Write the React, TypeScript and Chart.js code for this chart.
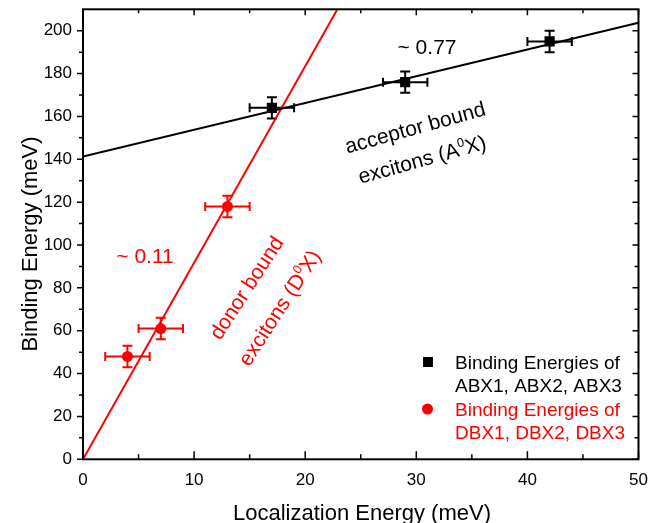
import React, { useEffect, useRef } from "react";
import { Chart, registerables } from "chart.js";

Chart.register(...registerables);

// ---- data ----
const abxLoc = [17, 29, 42];
const abxBind = [164, 176, 195];
const abxLocErr = [2, 2, 2];
const abxBindErr = [5, 5, 5];

const dbxLoc = [4, 7, 13];
const dbxBind = [48, 61, 118];
const dbxLocErr = [2, 2, 2];
const dbxBindErr = [5, 5, 5];

const acceptorFitX = [0, 50];
const acceptorFitY = [141.3, 203.7];
const donorFitX = [0, 25];
const donorFitY = [0, 229.3];

const xTicks = [0, 10, 20, 30, 40, 50];
const yTicks = [0, 20, 40, 60, 80, 100, 120, 140, 160, 180, 200];

const xTitle = "Localization Energy (meV)";
const yTitle = "Binding Energy (meV)";
const legendLines = [
  ["Binding Energies of", "ABX1, ABX2, ABX3"],
  ["Binding Energies of", "DBX1, DBX2, DBX3"],
];

const FONT = '"Liberation Sans", Arial, Helvetica, sans-serif';
const RED = "#ff0000";
const BLACK = "#000000";

function font(size: number) {
  return `${size}px ${FONT}`;
}

type Seg = { t: string; sup?: boolean };

function drawRich(
  ctx: CanvasRenderingContext2D,
  segs: Seg[],
  cx: number,
  cy: number,
  angleDeg: number,
  size: number,
  color: string
) {
  ctx.save();
  ctx.translate(cx, cy);
  ctx.rotate((angleDeg * Math.PI) / 180);
  ctx.fillStyle = color;
  ctx.textAlign = "left";
  ctx.textBaseline = "alphabetic";
  let total = 0;
  const widths = segs.map((s) => {
    ctx.font = font(s.sup ? size * 0.6 : size);
    const w = ctx.measureText(s.t).width;
    total += w;
    return w;
  });
  let x = -total / 2;
  const base = size * 0.358;
  segs.forEach((s, i) => {
    ctx.font = font(s.sup ? size * 0.6 : size);
    ctx.fillText(s.t, x, s.sup ? base - size * 0.42 : base);
    x += widths[i];
  });
  ctx.restore();
}

function drawErrorBars(chart: any, xs: number[], ys: number[], xe: number[], ye: number[], color: string) {
  const ctx = chart.ctx as CanvasRenderingContext2D;
  const sx = chart.scales.x;
  const sy = chart.scales.y;
  ctx.save();
  ctx.strokeStyle = color;
  ctx.lineWidth = 2;
  for (let i = 0; i < xs.length; i++) {
    const px = sx.getPixelForValue(xs[i]);
    const py = sy.getPixelForValue(ys[i]);
    const x0 = sx.getPixelForValue(xs[i] - xe[i]);
    const x1 = sx.getPixelForValue(xs[i] + xe[i]);
    const y0 = sy.getPixelForValue(ys[i] - ye[i]);
    const y1 = sy.getPixelForValue(ys[i] + ye[i]);
    ctx.beginPath();
    ctx.moveTo(x0, py);
    ctx.lineTo(x1, py);
    ctx.moveTo(x0, py - 4.5);
    ctx.lineTo(x0, py + 4.5);
    ctx.moveTo(x1, py - 4.5);
    ctx.lineTo(x1, py + 4.5);
    ctx.moveTo(px, y0);
    ctx.lineTo(px, y1);
    ctx.moveTo(px - 5, y0);
    ctx.lineTo(px + 5, y0);
    ctx.moveTo(px - 5, y1);
    ctx.lineTo(px + 5, y1);
    ctx.stroke();
  }
  ctx.restore();
}

const customPlugin = {
  id: "customDecor",
  beforeDatasetsDraw(chart: any) {
    drawErrorBars(chart, abxLoc, abxBind, abxLocErr, abxBindErr, BLACK);
    drawErrorBars(chart, dbxLoc, dbxBind, dbxLocErr, dbxBindErr, RED);
  },
  afterDraw(chart: any) {
    const ctx = chart.ctx as CanvasRenderingContext2D;
    const { left, right, top, bottom } = chart.chartArea;
    const sx = chart.scales.x;
    const sy = chart.scales.y;
    ctx.save();
    // frame
    ctx.strokeStyle = BLACK;
    ctx.lineWidth = 2;
    ctx.strokeRect(left, top, right - left, bottom - top);
    // ticks
    ctx.lineWidth = 1.5;
    ctx.beginPath();
    for (let v = 0; v <= 50; v += 5) {
      const px = sx.getPixelForValue(v);
      const major = v % 10 === 0;
      const lb = major ? 8 : 5;
      const lt = major ? 6 : 4;
      ctx.moveTo(px, bottom);
      ctx.lineTo(px, bottom - lb);
      ctx.moveTo(px, top);
      ctx.lineTo(px, top + lt);
    }
    for (let v = 0; v <= 200; v += 10) {
      const py = sy.getPixelForValue(v);
      const major = v % 20 === 0;
      const ll = major ? 6 : 4;
      const lr = major ? 6 : 4;
      ctx.moveTo(left, py);
      ctx.lineTo(left - ll, py);
      ctx.moveTo(right, py);
      ctx.lineTo(right - lr, py);
    }
    ctx.stroke();

    // axis titles
    ctx.fillStyle = BLACK;
    ctx.font = font(22);
    ctx.textAlign = "center";
    ctx.textBaseline = "alphabetic";
    ctx.fillText(xTitle, 362, 520);
    ctx.save();
    ctx.translate(37, 244);
    ctx.rotate(-Math.PI / 2);
    ctx.fillText(yTitle, 0, 0);
    ctx.restore();

    // annotations
    drawRich(ctx, [{ t: "~ 0.77" }], 427, 46.5, 0, 21, BLACK);
    drawRich(ctx, [{ t: "acceptor bound" }], 415, 127, -15.5, 21, BLACK);
    drawRich(ctx, [{ t: "excitons (A" }, { t: "0", sup: true }, { t: "X)" }], 422, 159, -15.5, 21, BLACK);
    drawRich(ctx, [{ t: "~ 0.11" }], 145, 255, 0, 21, RED);
    drawRich(ctx, [{ t: "donor bound" }], 246, 287.5, -57, 21, RED);
    drawRich(ctx, [{ t: "excitons (D" }, { t: "0", sup: true }, { t: "X)" }], 279, 307.5, -57, 21, RED);

    // legend
    ctx.fillStyle = BLACK;
    ctx.fillRect(428 - 5, 362 - 5, 10, 10);
    ctx.fillStyle = RED;
    ctx.beginPath();
    ctx.arc(427.5, 409, 5.5, 0, Math.PI * 2);
    ctx.fill();
    ctx.font = font(19);
    ctx.textAlign = "left";
    ctx.textBaseline = "alphabetic";
    const base = 19 * 0.358;
    ctx.fillStyle = BLACK;
    ctx.fillText(legendLines[0][0], 455, 362 + base);
    ctx.fillText(legendLines[0][1], 455, 385.5 + base);
    ctx.fillStyle = RED;
    ctx.fillText(legendLines[1][0], 455, 409 + base);
    ctx.fillText(legendLines[1][1], 455, 432 + base);
    ctx.restore();
  },
};

export default function App() {
  const ref = useRef<HTMLCanvasElement | null>(null);
  useEffect(() => {
    document.body.style.margin = "0";
    const canvas = ref.current;
    if (!canvas) return;
    const toPts = (xs: number[], ys: number[]) => xs.map((x, i) => ({ x, y: ys[i] }));
    const chart = new Chart(canvas, {
      type: "scatter",
      data: {
        datasets: [
          {
            label: "ABX",
            data: toPts(abxLoc, abxBind),
            pointStyle: "rect",
            pointRadius: 7.2,
            backgroundColor: BLACK,
            borderColor: BLACK,
            borderWidth: 0,
            showLine: false,
          },
          {
            label: "DBX",
            data: toPts(dbxLoc, dbxBind),
            pointStyle: "circle",
            pointRadius: 5.5,
            backgroundColor: RED,
            borderColor: RED,
            borderWidth: 0,
            showLine: false,
          },
          {
            label: "acceptor fit",
            data: toPts(acceptorFitX, acceptorFitY),
            showLine: true,
            pointRadius: 0,
            borderColor: BLACK,
            borderWidth: 2,
            fill: false,
          },
          {
            label: "donor fit",
            data: toPts(donorFitX, donorFitY),
            showLine: true,
            pointRadius: 0,
            borderColor: RED,
            borderWidth: 2,
            fill: false,
          },
        ],
      },
      options: {
        animation: false,
        responsive: false,
        maintainAspectRatio: false,
        events: [],
        layout: { padding: { left: 0, right: 23.5, top: 9.3, bottom: 0 } },
        plugins: { legend: { display: false }, tooltip: { enabled: false } },
        scales: {
          x: {
            type: "linear",
            min: 0,
            max: 50,
            grid: { display: false, drawTicks: false },
            border: { display: false },
            ticks: { padding: 10.5, color: BLACK, font: { family: FONT, size: 17 }, maxRotation: 0 },
            afterBuildTicks: (s: any) => {
              s.ticks = xTicks.map((v) => ({ value: v }));
            },
            afterFit: (s: any) => {
              s.height = 63.7;
              s.paddingLeft = 0;
              s.paddingRight = 0;
            },
          },
          y: {
            type: "linear",
            min: 0,
            max: 210,
            grid: { display: false, drawTicks: false },
            border: { display: false },
            ticks: { padding: 11, color: BLACK, font: { family: FONT, size: 17 } },
            afterBuildTicks: (s: any) => {
              s.ticks = yTicks.map((v) => ({ value: v }));
            },
            afterFit: (s: any) => {
              s.width = 83;
              s.paddingTop = 0;
              s.paddingBottom = 0;
            },
          },
        },
      },
      plugins: [customPlugin],
    } as any);
    return () => chart.destroy();
  }, []);
  return (
    <div style={{ position: "absolute", left: 0, top: 0, width: 662, height: 523 }}>
      <canvas ref={ref} width={662} height={523} style={{ display: "block", width: 662, height: 523 }} />
    </div>
  );
}
